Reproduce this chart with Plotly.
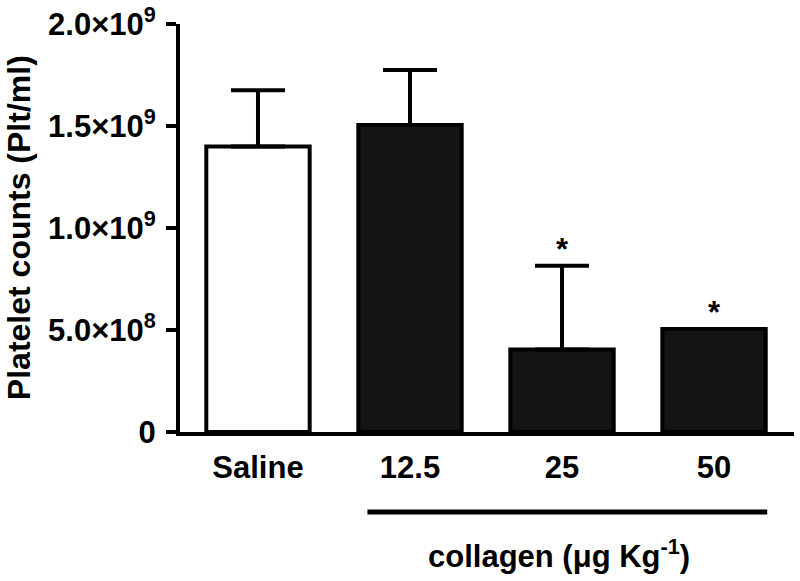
import plotly.graph_objects as go

categories = ["Saline", "12.5", "25", "50"]
means = [1.40e9, 1.505e9, 0.405e9, 0.505e9]
sem_plus = [0.275e9, 0.27e9, 0.41e9, 0.0]
bar_fills = ["white", "#141414", "#141414", "#141414"]
significant = [False, False, True, True]
ytick_vals = [0, 5e8, 1e9, 1.5e9, 2e9]
ytick_text = ["0", "5.0×10<sup>8</sup>", "1.0×10<sup>9</sup>", "1.5×10<sup>9</sup>", "2.0×10<sup>9</sup>"]
group_label = "collagen (μg Kg<sup>-1</sup>)"

FONT = dict(family="Liberation Sans, Arial, sans-serif", size=31, color="black", weight="bold")

fig = go.Figure()
fig.add_trace(go.Bar(
    x=list(range(len(categories))), y=means, width=0.68,
    marker=dict(color=bar_fills, line=dict(color="black", width=4)),
    error_y=dict(type="data", symmetric=False, array=sem_plus,
                 arrayminus=[0] * len(means), color="black", thickness=4, width=27),
    showlegend=False,
))

annotations = []
for i, (m, e, s) in enumerate(zip(means, sem_plus, significant)):
    if s:
        annotations.append(dict(x=i, y=m + e, xref="x", yref="y", text="*", showarrow=False,
                                yanchor="middle", yshift=16, font=FONT))

annotations.append(dict(x=-0.262, y=0.5, xref="paper", yref="paper", text="Platelet counts (Plt/ml)",
                        textangle=-90, showarrow=False, xanchor="center", yanchor="middle",
                        font=dict(FONT, size=32)))
annotations.append(dict(x=1.98, y=-0.298, xref="x", yref="paper", text=group_label,
                        showarrow=False, xanchor="center", yanchor="middle", font=FONT))

fig.update_layout(
    width=800, height=581,
    margin=dict(l=180, r=6, t=24, b=149, autoexpand=False),
    plot_bgcolor="white", paper_bgcolor="white",
    font=FONT,
    annotations=annotations,
    shapes=[dict(type="line", xref="x", yref="paper", x0=0.72, x1=3.35, y0=-0.196, y1=-0.196,
                 line=dict(color="black", width=5))],
)
fig.update_xaxes(range=[-0.513, 3.526], tickvals=list(range(len(categories))), ticktext=categories,
                 showline=True, linecolor="black", automargin=False,
                 linewidth=4, ticks="", showgrid=False, zeroline=False,
                 tickfont=FONT, ticklabelstandoff=5)
fig.update_yaxes(range=[0, 2e9], tickvals=ytick_vals, ticktext=ytick_text, showline=True,
                 linecolor="black", linewidth=4, ticks="outside", ticklen=10, tickwidth=4,
                 automargin=False, ticklabelstandoff=4,
                 tickcolor="black", showgrid=False, zeroline=False, tickfont=FONT)

fig.write_html("out.html", config={"displayModeBar": False},
               post_script="document.body.style.margin='0';")
